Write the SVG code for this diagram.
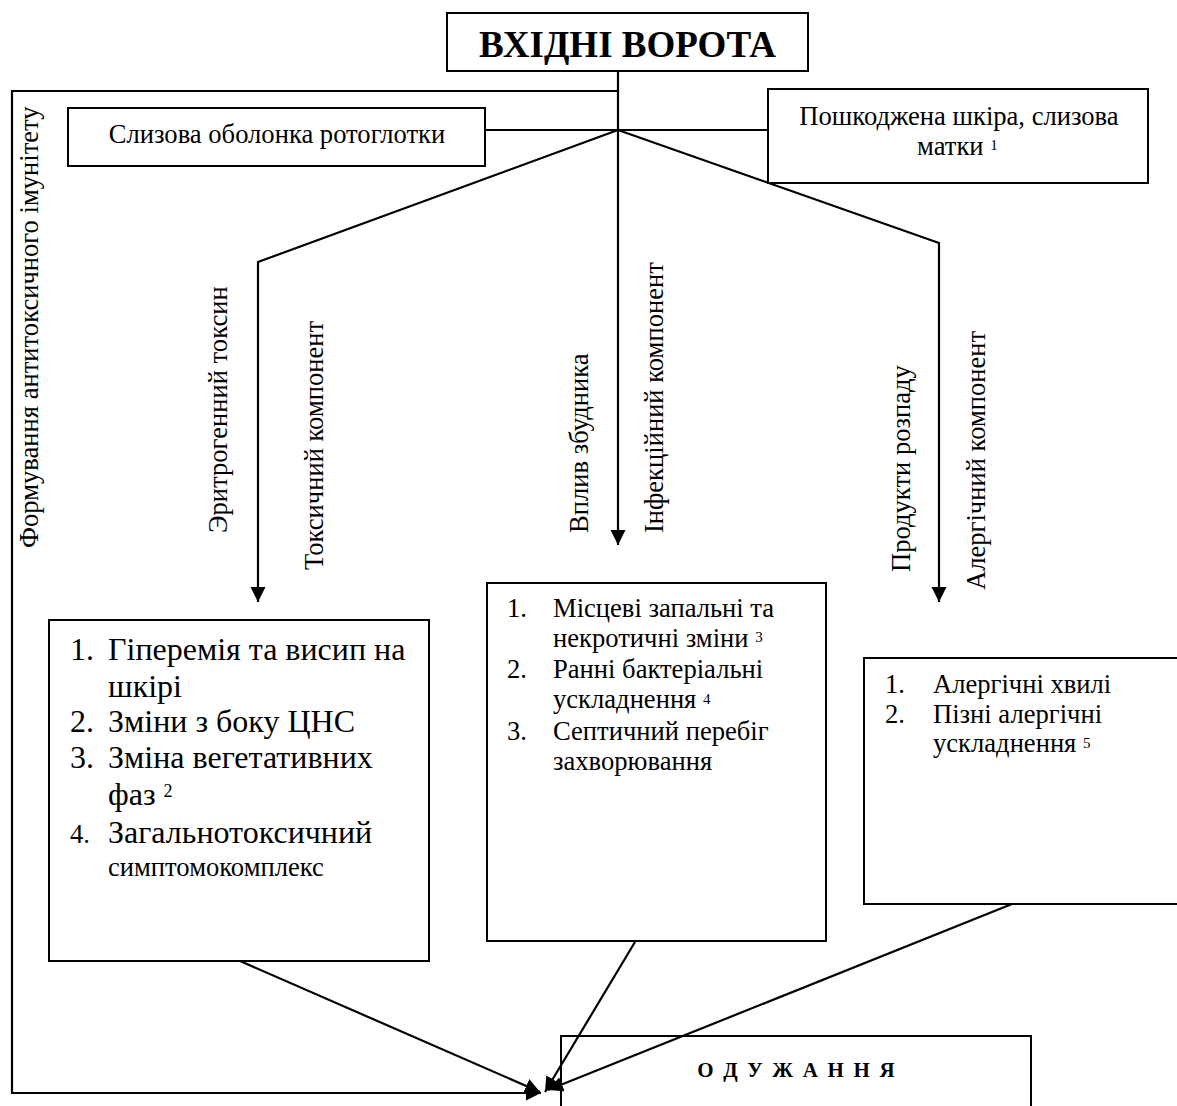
<svg xmlns="http://www.w3.org/2000/svg" width="1177" height="1106" viewBox="0 0 1177 1106">
  <style>
    text { font-family: "Liberation Serif", "Tinos", "Times New Roman", "DejaVu Serif", "Noto Serif", serif; fill: #000; }
    .box { fill: none; stroke: #000; stroke-width: 2; }
    .line { fill: none; stroke: #000; stroke-width: 2.2; }
    .t { font-size: 26.6px; }
    .big { font-size: 32px; }
    .sup { font-size: 15px; }
    .title { font-size: 37px; font-weight: bold; }
    .heal { font-size: 21px; font-weight: bold; letter-spacing: 2.2px; }
  </style>
  <defs>
    <marker id="arr" markerUnits="userSpaceOnUse" markerWidth="17" markerHeight="16" refX="15" refY="7.5" orient="auto">
      <path d="M0,0 L15,7.5 L0,15 Z" fill="#000"/>
    </marker>
  </defs>

  <rect width="1177" height="1106" fill="#fff"/>

  <!-- title -->
  <g id="node-entry">
    <rect class="box" x="447" y="13" width="361" height="58"/>
    <text class="title" x="627.5" y="57" text-anchor="middle">ВХІДНІ ВОРОТА</text>
  </g>

  <g id="node-pharynx">
    <rect class="box" x="68" y="108" width="417" height="58"/>
    <text class="t" x="277" y="143" text-anchor="middle">Слизова оболонка ротоглотки</text>
  </g>

  <g id="node-skin">
    <rect class="box" x="768" y="89" width="380" height="94"/>
    <text class="t" x="959" y="125" text-anchor="middle">Пошкоджена шкіра, слизова</text>
    <text class="t" x="917" y="155">матки <tspan class="sup" dy="-5">1</tspan></text>
  </g>

  <!-- vertical labels -->
  <g id="labels">
    <text class="t" transform="translate(38,548) rotate(-90)">Формування антитоксичного імунітету</text>
    <text class="t" transform="translate(227,533) rotate(-90)">Эритрогенний токсин</text>
    <text class="t" transform="translate(323,570) rotate(-90)">Токсичний компонент</text>
    <text class="t" transform="translate(588,533) rotate(-90)">Вплив збудника</text>
    <text class="t" transform="translate(663,533) rotate(-90)">Інфекційний компонент</text>
    <text class="t" transform="translate(910,572) rotate(-90)">Продукти розпаду</text>
    <text class="t" transform="translate(985,590) rotate(-90)">Алергічний компонент</text>
  </g>

  <g id="node-toxic">
    <rect class="box" x="49" y="620" width="380" height="341"/>
    <text class="big" x="70" y="660">1.</text>
    <text class="big" x="108" y="660">Гіперемія та висип на</text>
    <text class="big" x="108" y="697">шкірі</text>
    <text class="big" x="70" y="732">2.</text>
    <text class="big" x="108" y="732">Зміни з боку ЦНС</text>
    <text class="big" x="70" y="768">3.</text>
    <text class="big" x="108" y="768">Зміна вегетативних</text>
    <text class="big" x="108" y="805">фаз <tspan font-size="18" dy="-8">2</tspan></text>
    <text class="t" x="70" y="843">4.</text>
    <text class="big" x="108" y="843">Загальнотоксичний</text>
    <text class="t" x="108" y="876">симптомокомплекс</text>
  </g>

  <g id="node-infect">
    <rect class="box" x="487" y="583" width="339" height="358"/>
    <text class="t" x="507" y="617">1.</text>
    <text class="t" x="553" y="617">Місцеві запальні та</text>
    <text class="t" x="553" y="647">некротичні зміни <tspan class="sup" dy="-5">3</tspan></text>
    <text class="t" x="507" y="678">2.</text>
    <text class="t" x="553" y="678">Ранні бактеріальні</text>
    <text class="t" x="553" y="708">ускладнення <tspan class="sup" dy="-4">4</tspan></text>
    <text class="t" x="507" y="740">3.</text>
    <text class="t" x="553" y="740">Септичний перебіг</text>
    <text class="t" x="553" y="770">захворювання</text>
  </g>

  <g id="node-allergy">
    <rect class="box" x="864" y="658" width="330" height="246"/>
    <text class="t" x="885" y="693">1.</text>
    <text class="t" x="933" y="693">Алергічні хвилі</text>
    <text class="t" x="885" y="723">2.</text>
    <text class="t" x="933" y="723">Пізні алергічні</text>
    <text class="t" x="933" y="752">ускладнення <tspan class="sup" dy="-4">5</tspan></text>
  </g>

  <g id="node-recovery">
    <rect class="box" x="561" y="1036" width="470" height="90"/>
    <text class="heal" x="797" y="1077" text-anchor="middle">О Д У Ж А Н Н Я</text>
  </g>

  <!-- connectors -->
  <g id="connectors">
    <!-- outer loop: immunity back to recovery -->
    <path class="line" d="M618,91 H12 V1093 H541" marker-end="url(#arr)"/>
    <!-- central trunk -->
    <path class="line" d="M618,71 V545" marker-end="url(#arr)"/>
    <!-- entry routes bar -->
    <path class="line" d="M485,130 H768"/>
    <!-- toxic branch -->
    <path class="line" d="M618,130 L258,262 V602" marker-end="url(#arr)"/>
    <!-- allergic branch -->
    <path class="line" d="M618,130 L939,243 V602" marker-end="url(#arr)"/>
    <!-- results to recovery -->
    <path class="line" d="M240,961 L540,1092" marker-end="url(#arr)"/>
    <path class="line" d="M635,942 L545,1092" marker-end="url(#arr)"/>
    <path class="line" d="M1012,904 L548,1090" marker-end="url(#arr)"/>
  </g>
</svg>
